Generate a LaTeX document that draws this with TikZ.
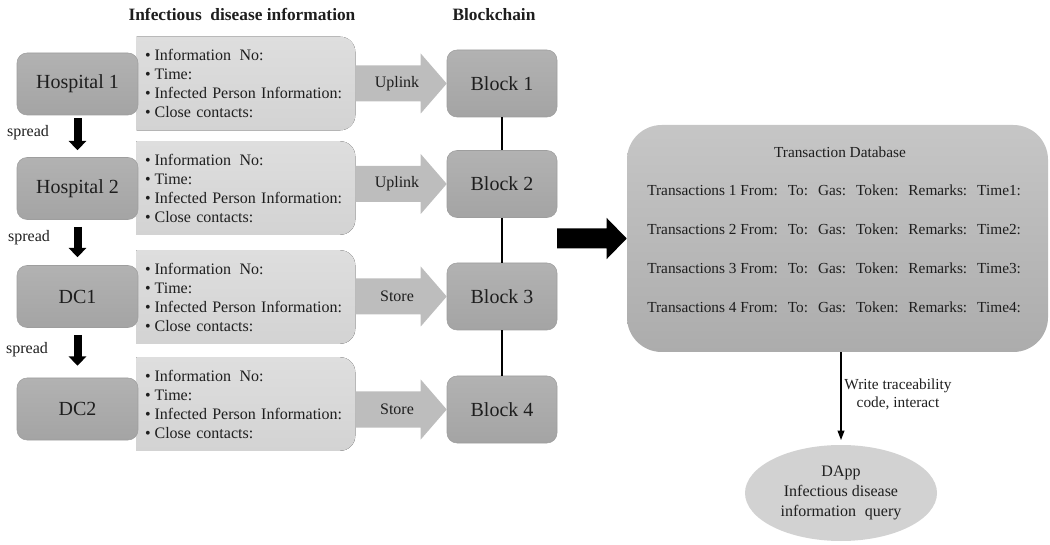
\documentclass[tikz,border=0pt]{standalone}
\usepackage{fontspec}
\setmainfont{Liberation Serif}
\usetikzlibrary{calc,arrows.meta,shapes.geometric,backgrounds}

\definecolor{txt}{HTML}{1E1E1E}
\definecolor{boxtop}{HTML}{B2B2B2}
\definecolor{boxbot}{HTML}{A4A4A4}
\definecolor{boxedge}{HTML}{9E9E9E}
\definecolor{infotop}{HTML}{DEDEDE}
\definecolor{infobot}{HTML}{D3D3D3}
\definecolor{arrowgray}{HTML}{BDBDBD}
\definecolor{dbtop}{HTML}{C6C6C6}
\definecolor{dbbot}{HTML}{ACACAC}
\definecolor{ellfill}{HTML}{D2D2D2}

% gap between the fields of one transaction record
\newcommand\tgap{\hspace{0.65em}}

% info card: square on the left, rounded on the right
\newcommand\infocard[1]{%
  \fill[top color=infotop,bottom color=infobot]
    (#1.north west) -- ($(#1.north east)+(-11.25pt,0)$)
    arc[start angle=90,end angle=0,radius=11.25pt]
    -- ($(#1.south east)+(0,11.25pt)$)
    arc[start angle=0,end angle=-90,radius=11.25pt]
    -- (#1.south west) -- cycle;}

% wide grey arrow from an info card to its block
\newcommand\blockarrow[3]{%
  \path[fill=arrowgray] let \p1=(#1.east), \p2=(#2.west) in
    (\x1,\y2+13.5pt) -- (\x2-19.5pt,\y2+13.5pt) -- (\x2-19.5pt,\y2+22.5pt)
    -- (\x2,\y2) -- (\x2-19.5pt,\y2-22.5pt) -- (\x2-19.5pt,\y2-13.5pt)
    -- (\x1,\y2-13.5pt) -- cycle
    ({(\x1+\x2)/2-3pt},\y2) node[arrowtext]{#3};}

\begin{document}
\begin{tikzpicture}[x=0.75pt,y=-0.75pt,
  every node/.style={text=txt},
  unitbox/.style={rounded corners=7.5pt, top color=boxtop, bottom color=boxbot,
    draw=boxedge, line width=0.4pt, minimum width=90.75pt, minimum height=46.5pt,
    inner sep=0pt, font=\fontsize{15}{18}\selectfont},
  blockbox/.style={unitbox, minimum width=82.5pt, minimum height=50.25pt},
  infobox/.style={text width=151.5pt, inner xsep=6pt, inner ysep=0pt,
    minimum height=69.75pt, align=left, font=\fontsize{12}{14.25}\selectfont},
  arrowtext/.style={font=\fontsize{12}{14}\selectfont, inner sep=0pt},
  heading/.style={font=\bfseries\fontsize{13}{15}\selectfont, inner sep=0pt},
  spreadlabel/.style={font=\fontsize{12}{14}\selectfont, inner sep=0pt},
  spreadarrow/.style={line width=6pt, black, -{Triangle[length=7pt,width=13pt]}},
  chainline/.style={line width=1.1pt, black},
  dbline/.style={font=\fontsize{11.5}{14}\selectfont, inner sep=0pt, anchor=west},
]
\useasboundingbox (0,0) rectangle (1050,545);

% column headings
\node[heading] (hinfo) at (242,15) {Infectious\hspace{0.25em} disease information};
\node[heading] (hchain) at (494,15) {Blockchain};

% sources of the information
\node[unitbox] (h1) at (77.5,84)    {Hospital 1};
\node[unitbox] (h2) at (77.5,188.5) {Hospital 2};
\node[unitbox] (d1) at (77.5,296.5) {DC1};
\node[unitbox] (d2) at (77.5,409)   {DC2};

% information cards
\newcommand\cardtext{%
  \textbullet\hspace{3pt}Information\hspace{2.5pt} No:\\
  \textbullet\hspace{3pt}Time:\\
  \textbullet\hspace{3pt}Infected Person Information:\\
  \textbullet\hspace{3pt}Close contacts:}
\node[infobox] (i1) at (246,83.5) {\cardtext};
\node[infobox] (i2) at (246,188)  {\cardtext};
\node[infobox] (i3) at (246,297)  {\cardtext};
\node[infobox] (i4) at (246,404)  {\cardtext};
\begin{scope}[on background layer]
  \infocard{i1}\infocard{i2}\infocard{i3}\infocard{i4}
\end{scope}

% blocks of the chain
\node[blockbox] (b1) at (502,83.5)  {Block 1};
\node[blockbox] (b2) at (502,184)   {Block 2};
\node[blockbox] (b3) at (502,296.5) {Block 3};
\node[blockbox] (b4) at (502,409.5) {Block 4};
\draw[chainline] (b1.south) -- (b2.north);
\draw[chainline] (b2.south) -- (b3.north);
\draw[chainline] (b3.south) -- (b4.north);

% cards into blocks
\blockarrow{i1}{b1}{Uplink}
\blockarrow{i2}{b2}{Uplink}
\blockarrow{i3}{b3}{Store}
\blockarrow{i4}{b4}{Store}

% spreading between sources
\draw[spreadarrow] ($(h1.south)+(0,3)$) -- ($(h2.north)+(0,-7)$);
\draw[spreadarrow] ($(h2.south)+(0,7)$) -- ($(d1.north)+(0,-8)$);
\draw[spreadarrow] ($(d1.south)+(0,7)$) -- ($(d2.north)+(0,-12)$);
\node[spreadlabel] (s1) at (28,133) {spread};
\node[spreadlabel] (s2) at (29,238) {spread};
\node[spreadlabel] (s3) at (27,350) {spread};

% transaction database
\node[rounded corners=26pt, top color=dbtop, bottom color=dbbot,
  minimum width=315.75pt, minimum height=170.25pt] (db) at (837.5,238.5) {};
\node[font=\fontsize{11.5}{14}\selectfont, inner sep=0pt] (dbtitle) at (840,152) {Transaction Database};
\node[dbline] (t1) at (647,190) {Transactions 1 From:\tgap To:\tgap Gas:\tgap Token:\tgap Remarks:\tgap Time1:};
\node[dbline] (t2) at (647,229) {Transactions 2 From:\tgap To:\tgap Gas:\tgap Token:\tgap Remarks:\tgap Time2:};
\node[dbline] (t3) at (647,268) {Transactions 3 From:\tgap To:\tgap Gas:\tgap Token:\tgap Remarks:\tgap Time3:};
\node[dbline] (t4) at (647,307) {Transactions 4 From:\tgap To:\tgap Gas:\tgap Token:\tgap Remarks:\tgap Time4:};

% chain into the database
\coordinate (bigtail) at (557,238.5);
\path[fill=black] let \p1=(bigtail), \p2=(db.west) in
  (\x1,\y2+7.5pt) -- (\x2-15pt,\y2+7.5pt) -- (\x2-15pt,\y2+15.4pt) -- (\x2,\y2)
  -- (\x2-15pt,\y2-15.4pt) -- (\x2-15pt,\y2-7.5pt) -- (\x1,\y2-7.5pt) -- cycle;

% query application
\node[ellipse, fill=ellfill, minimum width=144pt, minimum height=72pt, inner sep=0pt,
  align=center, font=\fontsize{12}{15}\selectfont] (dapp) at (841,493)
  {DApp\\Infectious disease\\information\hspace{0.3em} query};
\draw[line width=1.1pt, -{Triangle[length=7pt,width=5pt]}, shorten >=3.5pt]
  (db.south -| dapp.north) -- (dapp.north);
\node[align=center, font=\fontsize{11.5}{13.5}\selectfont, inner sep=0pt] (wlabel)
  at (898,394) {Write traceability\\code, interact};
\end{tikzpicture}
\end{document}
